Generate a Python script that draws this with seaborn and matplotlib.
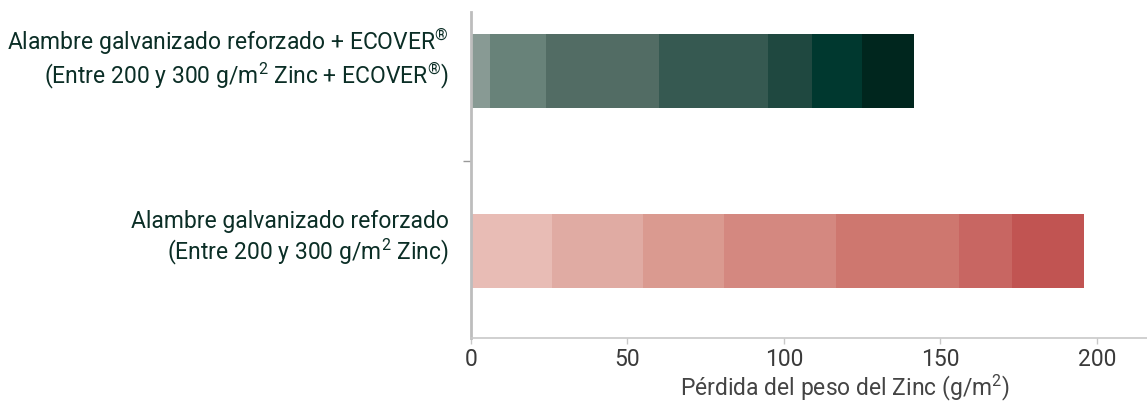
import matplotlib
matplotlib.use("Agg")
import matplotlib.pyplot as plt
import matplotlib.transforms as mtransforms
import seaborn as sns
import numpy as np
import pandas as pd

# Datos (pérdida de zinc por tramo, g/m2)
categories = [
    "Alambre galvanizado reforzado + ECOVER$^{®}$\n(Entre 200 y 300 g/m$^{2}$ Zinc + ECOVER$^{®}$)",
    "Alambre galvanizado reforzado\n(Entre 200 y 300 g/m$^{2}$ Zinc)",
]
ecover_steps = [6, 18, 36, 35, 14, 16, 16.5]
galv_steps = [26, 29, 26, 35.5, 39.5, 17, 23]

green_colors = ["#889a94", "#688279", "#526c64", "#365951", "#1f4840", "#00382f", "#00261e"]
red_colors = ["#e8bcb5", "#e0aba3", "#da9a90", "#d48880", "#ce776f", "#c86662", "#c15452"]

x_ticks = [0, 50, 100, 150, 200]
x_label = "Pérdida del peso del Zinc (g/m$^{2}$)"

sns.set_theme(style="white")
plt.rcParams["font.family"] = ["Roboto", "DejaVu Sans"]
plt.rcParams["mathtext.fontset"] = "custom"
plt.rcParams["mathtext.rm"] = "Roboto"
plt.rcParams["mathtext.it"] = "Roboto"
plt.rcParams["mathtext.default"] = "rm"

cum_green = np.cumsum(ecover_steps)
cum_red = np.cumsum(galv_steps)

fig = plt.figure(figsize=(11.47, 4.01), dpi=100)
ax = fig.add_axes([0.4106, 0.157, 0.5894, 0.813])

# capas de atrás hacia delante (acumulado mayor primero)
for k in range(len(ecover_steps) - 1, -1, -1):
    df = pd.DataFrame({"cat": categories, "val": [cum_green[k], cum_red[k]]})
    sns.barplot(
        data=df, x="val", y="cat", hue="cat", order=categories,
        palette={categories[0]: green_colors[k], categories[1]: red_colors[k]},
        width=0.41, dodge=False, legend=False, saturation=1, ax=ax, linewidth=0,
    )

ax.set_xlim(0, 216)
ax.set_ylim(1.483, -0.328)
ax.set_xticks(x_ticks)
ax.set_xlabel(x_label, fontsize=16.5, color="#444444")
ax.xaxis.set_label_coords(0.553, -0.105)
ax.set_ylabel("")

for s in ["top", "right"]:
    ax.spines[s].set_visible(False)
ax.spines["left"].set_color("#bdbdbd")
ax.spines["left"].set_linewidth(2)
ax.spines["bottom"].set_color("#c8c8c8")
ax.spines["bottom"].set_linewidth(1.2)

ax.tick_params(axis="x", length=4, width=1, color="#c8c8c8", labelsize=16.5,
               labelcolor="#3a3a3a", pad=3, bottom=True)
ax.tick_params(axis="y", which="major", length=0, labelsize=16.5,
               labelcolor="#0b2e26", pad=16)
ax.set_yticks([0.5], minor=True)
ax.tick_params(axis="y", which="minor", length=6, width=1, color="#999999", left=True)

# etiquetas un poco por encima del centro de la barra
offset = mtransforms.ScaledTranslation(0, 18 / 100, fig.dpi_scale_trans)
for lab in ax.get_yticklabels():
    lab.set_transform(lab.get_transform() + offset)
    lab.set_horizontalalignment("right")
    lab.set_multialignment("right")
    lab.set_linespacing(1.15)

ax.grid(False)
fig.savefig("out.png", dpi=100)
